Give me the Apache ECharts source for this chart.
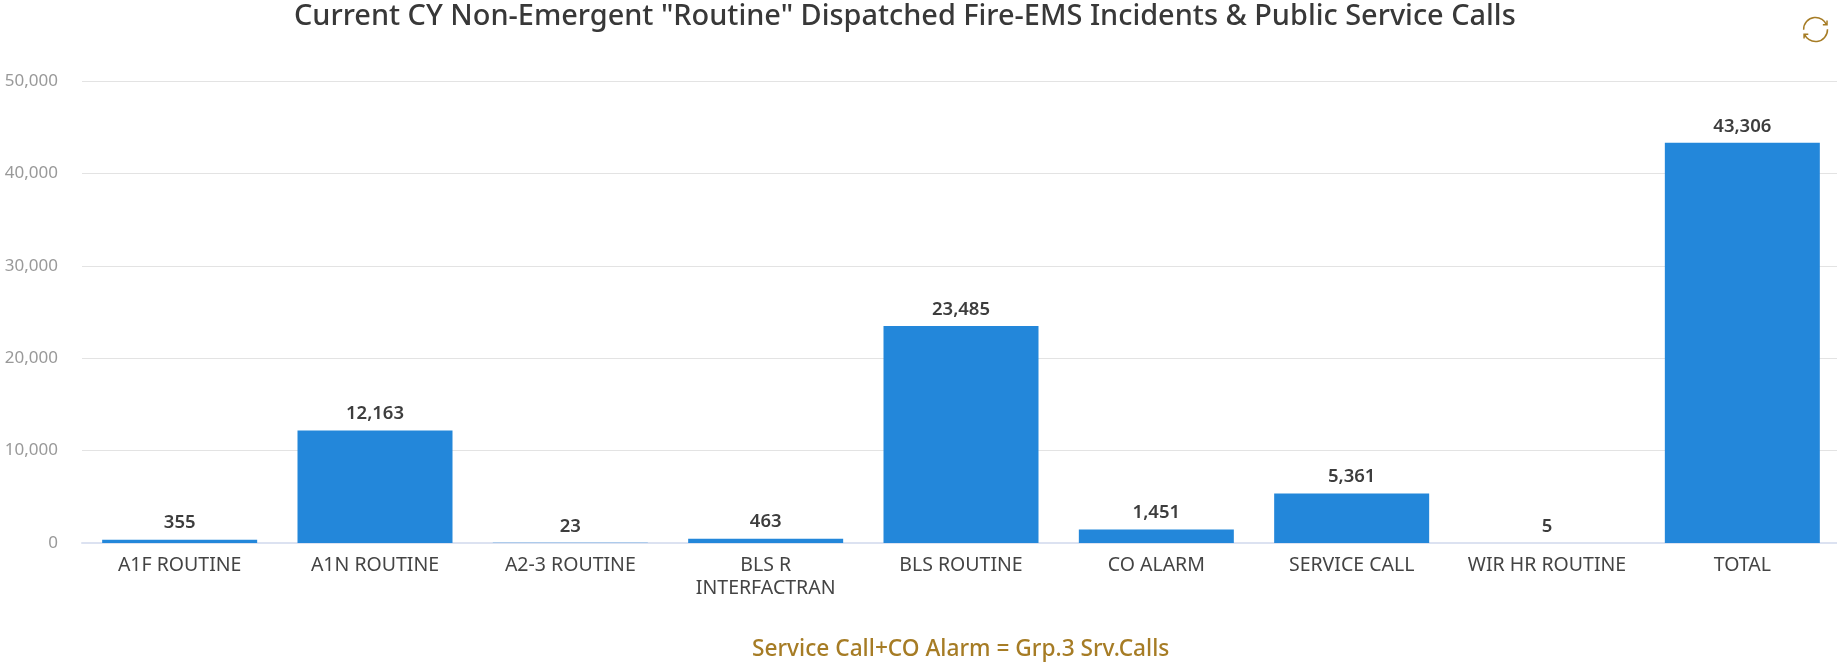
<!DOCTYPE html>
<html><head><meta charset="utf-8">
<style>html,body{margin:0;padding:0;background:#fff}#c{width:1837px;height:662px}</style>
<script src="https://cdn.jsdelivr.net/npm/echarts@6/dist/echarts.min.js"></script>
</head><body><div id="c"></div>
<script>
const categories = ['A1F ROUTINE','A1N ROUTINE','A2-3 ROUTINE','BLS R\nINTERFACTRAN','BLS ROUTINE','CO ALARM','SERVICE CALL','WIR HR ROUTINE','TOTAL'];
const values = [355,12163,23,463,23485,1451,5361,5,43306];
const titleText = 'Current CY Non-Emergent "Routine" Dispatched Fire-EMS Incidents & Public Service Calls';
const subText = 'Service Call+CO Alarm = Grp.3 Srv.Calls';
const font = '"Noto Sans","Open Sans",sans-serif';
const chart = echarts.init(document.getElementById('c'),null,{renderer:'canvas'});
chart.setOption({
  animation:false,
  backgroundColor:'#fff',
  title:[
    {text:titleText,left:294,top:2,padding:0,textStyle:{fontFamily:font,fontSize:28.9,fontWeight:500,color:'#383838'}},
    {text:subText,left:752,top:638,padding:0,textStyle:{fontFamily:font,fontSize:22.7,fontWeight:500,color:'#A67C25'}}
  ],
  toolbox:{show:true,right:-8,top:0,itemSize:24,feature:{restore:{show:true,title:'Restore'}},
    iconStyle:{borderColor:'#A67C25',borderWidth:1.5,color:'none'}},
  grid:{left:82,top:81,width:1758,height:462,outerBoundsMode:'none'},
  xAxis:{type:'category',data:categories,
    axisTick:{show:false},
    axisLine:{lineStyle:{color:'#DCE2F1',width:2}},
    axisLabel:{interval:0,color:'#444',fontFamily:font,fontSize:19.5,margin:11,lineHeight:23}},
  yAxis:{type:'value',min:0,max:50000,interval:10000,
    axisLine:{show:false},axisTick:{show:false},
    splitLine:{lineStyle:{color:'#E3E3E3',width:1}},
    axisLabel:{color:'#999',fontFamily:font,fontSize:17,margin:24,formatter:v=>v.toLocaleString('en-US')}},
  series:[{type:'bar',data:values,barWidth:155,
    itemStyle:{color:'#2387DA'},
    label:{show:true,position:'top',distance:7,color:'#3d3d3d',fontFamily:font,fontSize:18.5,fontWeight:600,
      formatter:p=>p.value.toLocaleString('en-US')}}]
});
</script></body></html>
